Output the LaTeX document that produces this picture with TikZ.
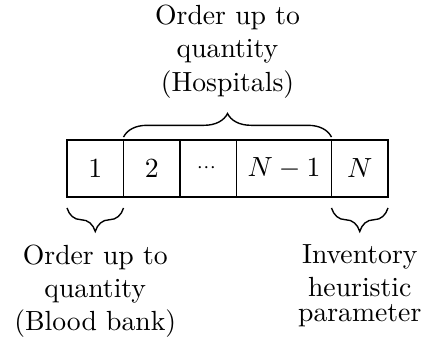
\documentclass[tikz,border=0pt]{standalone}
\usepackage{amsmath}
\usetikzlibrary{positioning,decorations.pathreplacing}
\tikzset{
  cell/.style={rectangle,draw,line width=0.55pt,minimum width=20.4pt,
    minimum height=20.6pt,inner sep=0pt,outer sep=0pt},
  widecell/.style={cell,minimum width=34.3pt},
  curlyup/.style={decorate,decoration={brace,amplitude=8.5pt,raise=#1},line width=0.5pt},
  curlydown/.style={decorate,decoration={brace,mirror,amplitude=8.5pt,raise=#1},line width=0.5pt},
  caption/.style={align=center}
}

\begin{document}
\begin{tikzpicture}[node distance=0pt]
\useasboundingbox (0,0) rectangle (153.1pt,-122.4pt);
% the row of cells
\node[cell,anchor=west] (c1) at (24.2pt,-60.8pt) {1};
\node[cell,right=of c1] (c2) {2};
\node[cell,right=of c2] (c3) {$\scriptstyle\cdots$};
\node[widecell,right=of c3] (c4) {$N-1$};
\node[cell,right=of c4] (c5) {$N$};
% braces and their texts
\draw[curlyup=1pt] (c2.north west) -- (c4.north east)
  node[midway,above=11.5pt,caption] (hosp) {Order up to\\quantity\\(Hospitals)};
\draw[curlydown=4pt] (c1.south west) -- (c1.south east)
  node[midway,below=13.7pt,caption] (bank) {Order up to\\quantity\\(Blood bank)};
\draw[curlydown=4pt] (c5.south west) -- (c5.south east)
  node[midway,below=13.7pt,caption] (param) {Inventory\\heuristic\\[-3pt]parameter};
\end{tikzpicture}
\end{document}
